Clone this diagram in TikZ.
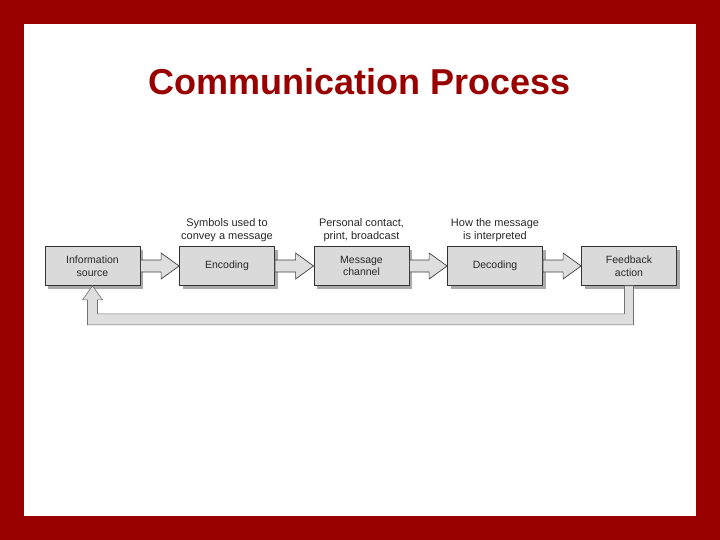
\documentclass[tikz,border=0pt]{standalone}
\usepackage{fontspec}
\setmainfont{Liberation Sans}
\usetikzlibrary{calc,shadows}
\definecolor{frame}{RGB}{153,0,0}
\definecolor{boxfill}{RGB}{218,218,218}
\definecolor{arrfill}{RGB}{222,222,222}
\definecolor{shadowc}{RGB}{170,170,170}
\definecolor{txt}{RGB}{40,40,40}
\tikzset{
  stepbox/.style={draw=black!80, line width=0.8pt, fill=boxfill,
    minimum width=95pt, minimum height=39pt, inner sep=1pt,
    align=center, text=txt, font=\fontsize{10.5}{12.5}\selectfont,
    drop shadow={shadow xshift=3pt, shadow yshift=-3pt, fill=shadowc, opacity=1}},
  lbl/.style={align=center, text=txt, inner sep=1pt, font=\fontsize{11}{13}\selectfont},
  blockarr/.style={draw=black!75, line width=0.7pt, fill=arrfill, line join=miter},
  looparr/.style={draw=black!55, line width=0.6pt, fill=arrfill, line join=miter},
}
\newcommand{\blockarrow}[2]{%
  \draw[blockarr] ($(#1.east)+(0,-6)$) -- ($(#2.west)+(-18,-6)$) -- ($(#2.west)+(-18,-13)$)
    -- (#2.west) -- ($(#2.west)+(-18,13)$) -- ($(#2.west)+(-18,6)$) -- ($(#1.east)+(0,6)$) -- cycle;}
\begin{document}
\begin{tikzpicture}[x=1pt,y=-1pt]
  \fill[frame] (0,0) rectangle (720,540);
  \fill[white] (24,24) rectangle (696,516);
  \useasboundingbox (0,0) rectangle (720,540);

  \node[text=frame, font=\fontsize{36}{40}\selectfont\bfseries] (title) at (360,82) {Communication Process};

  \node[stepbox] (info) at (92.5,266) {Information\\source};
  \node[stepbox] (enc)  at (227,266) {Encoding};
  \node[stepbox] (chan) at (361.5,266) {Message\\channel};
  \node[stepbox] (dec)  at (495,266) {Decoding};
  \node[stepbox] (feed) at (629,266) {Feedback\\action};

  \node[lbl, anchor=south] (l1) at ($(enc.north)+(0,-3)$) {Symbols used to\\convey a message};
  \node[lbl, anchor=south] (l2) at ($(chan.north)+(0,-3)$) {Personal contact,\\print, broadcast};
  \node[lbl, anchor=south] (l3) at ($(dec.north)+(0,-3)$) {How the message\\is interpreted};

  \blockarrow{info}{enc}
  \blockarrow{enc}{chan}
  \blockarrow{chan}{dec}
  \blockarrow{dec}{feed}

  % feedback loop
  \draw[looparr]
    ($(feed.south)+(4.5,0)$) -- ($(feed.south)+(4.5,39)$) -- ($(info.south)+(-5,39)$)
    -- ($(info.south)+(-5,14)$) -- ($(info.south)+(-10,14)$) -- (info.south)
    -- ($(info.south)+(10,14)$) -- ($(info.south)+(5,14)$) -- ($(info.south)+(5,28)$)
    -- ($(feed.south)+(-4.5,28)$) -- ($(feed.south)+(-4.5,0)$) -- cycle;
\end{tikzpicture}
\end{document}
